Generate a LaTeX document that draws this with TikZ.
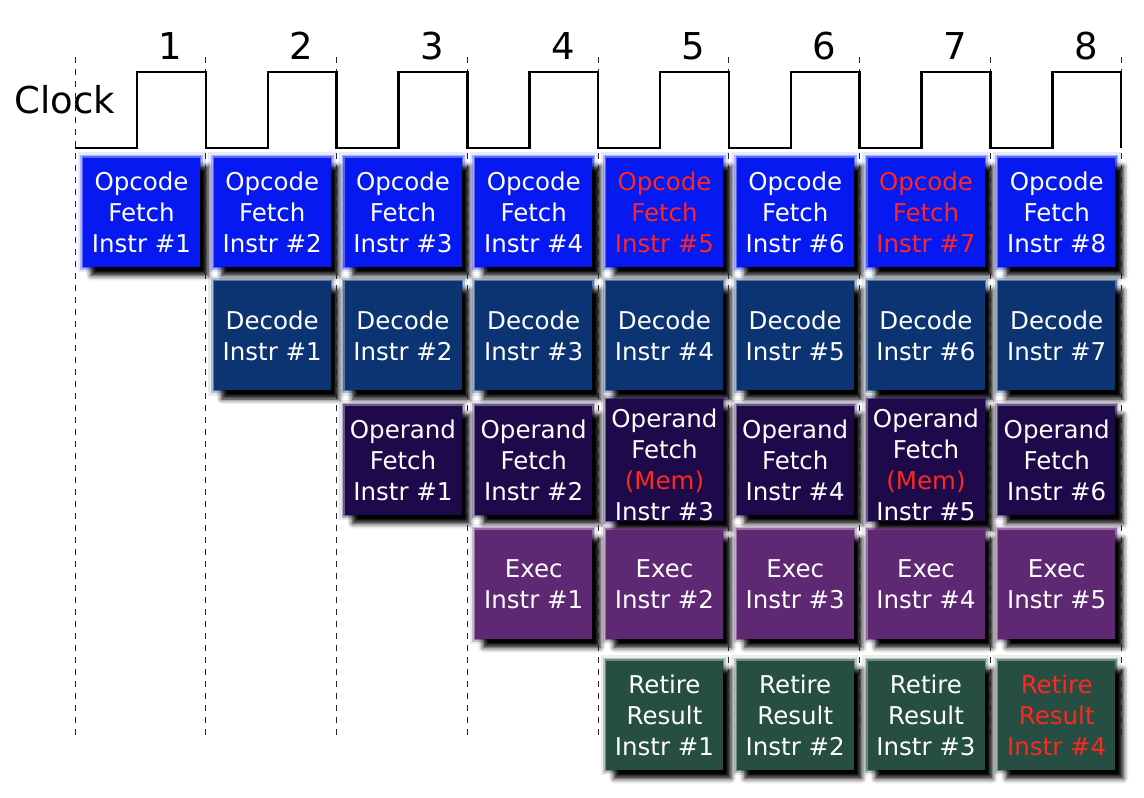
\documentclass[tikz,border=0pt]{standalone}
\usepackage{fontspec}
\setmainfont{DejaVu Sans}
\usetikzlibrary{positioning,shadows.blur}
\definecolor{fetchblue} {RGB}{  5, 25,240}
\definecolor{decblue}   {RGB}{ 12, 52,115}
\definecolor{opndviolet}{RGB}{ 30, 10, 75}
\definecolor{execviolet}{RGB}{ 94, 40,115}
\definecolor{retgreen}  {RGB}{ 38, 78, 66}
\definecolor{hazred}    {RGB}{255, 40, 30}
\newcommand{\memop}{{\color{hazred}(Mem)}}

\begin{document}
\begin{tikzpicture}[
    x=1pt, y=-1pt,
    node distance=13.75pt and 13.75pt,
    glow/.style={preaction={draw=#1, draw opacity=0.10, line width=11pt}, preaction={draw=#1, draw opacity=0.25, line width=6pt}, preaction={draw=#1, draw opacity=0.5, line width=2.5pt}},
    stage/.style={rectangle, minimum width=117pt, minimum height=109pt, inner sep=1pt, outer sep=0pt, align=center, text=white, font=\fontsize{24.5}{31}\selectfont, glow=#1, blur shadow={shadow xshift=8pt, shadow yshift=-9pt, shadow blur radius=5pt, shadow opacity=100}, fill=#1},
    fetch/.style={stage=fetchblue},
    decode/.style={stage=decblue},
    opnd/.style={stage=opndviolet},
    exec/.style={stage=execviolet},
    retire/.style={stage=retgreen},
    hazard/.style={text=hazred},
    memload/.style={text height=120pt, text depth=-13pt},
    cycleline/.style={line width=0.9pt, black!85, dash pattern=on 6pt off 6pt},
    clockwave/.style={line width=2.5pt, line join=miter},
    bigtext/.style={font=\fontsize{37}{42}\selectfont}
]
    \useasboundingbox (0,0) rectangle (1144,798);

    \node[fetch] (f1) at (141.5,212) {Opcode\\Fetch\\Instr \#1};
    \node[fetch] (f2) [right=of f1] {Opcode\\Fetch\\Instr \#2};
    \node[fetch] (f3) [right=of f2] {Opcode\\Fetch\\Instr \#3};
    \node[fetch] (f4) [right=of f3] {Opcode\\Fetch\\Instr \#4};
    \node[fetch, hazard] (f5) [right=of f4] {Opcode\\Fetch\\Instr \#5};
    \node[fetch] (f6) [right=of f5] {Opcode\\Fetch\\Instr \#6};
    \node[fetch, hazard] (f7) [right=of f6] {Opcode\\Fetch\\Instr \#7};
    \node[fetch] (f8) [right=of f7] {Opcode\\Fetch\\Instr \#8};

    \node[decode] (d1) at (272.25,335.5) {Decode\\Instr \#1};
    \node[decode] (d2) [right=of d1] {Decode\\Instr \#2};
    \node[decode] (d3) [right=of d2] {Decode\\Instr \#3};
    \node[decode] (d4) [right=of d3] {Decode\\Instr \#4};
    \node[decode] (d5) [right=of d4] {Decode\\Instr \#5};
    \node[decode] (d6) [right=of d5] {Decode\\Instr \#6};
    \node[decode] (d7) [right=of d6] {Decode\\Instr \#7};

    \node[opnd] (o1) at (403,460) {Operand\\Fetch\\Instr \#1};
    \node[opnd] (o2) [right=of o1] {Operand\\Fetch\\Instr \#2};
    \node[opnd, memload] (o3) [right=of o2] {Operand\\Fetch\\\memop\\Instr \#3};
    \node[opnd] (o4) [right=of o3] {Operand\\Fetch\\Instr \#4};
    \node[opnd, memload] (o5) [right=of o4] {Operand\\Fetch\\\memop\\Instr \#5};
    \node[opnd] (o6) [right=of o5] {Operand\\Fetch\\Instr \#6};

    \node[exec] (e1) at (533.75,584) {Exec\\Instr \#1};
    \node[exec] (e2) [right=of e1] {Exec\\Instr \#2};
    \node[exec] (e3) [right=of e2] {Exec\\Instr \#3};
    \node[exec] (e4) [right=of e3] {Exec\\Instr \#4};
    \node[exec] (e5) [right=of e4] {Exec\\Instr \#5};

    \node[retire] (r1) at (664.5,715) {Retire\\Result\\Instr \#1};
    \node[retire] (r2) [right=of r1] {Retire\\Result\\Instr \#2};
    \node[retire] (r3) [right=of r2] {Retire\\Result\\Instr \#3};
    \node[retire, hazard] (r4) [right=of r3] {Retire\\Result\\Instr \#4};

    \foreach \k in {0,...,8}
        \draw[cycleline] ({75+130.75*\k},57) -- ({75+130.75*\k},735);

    \draw[clockwave] (75,148)
        \foreach \k in {0,...,7} {
            -- ({75+130.75*\k+62},148) -- ++(0,-76)
            -- ({75+130.75*(\k+1)},72) -- ++(0,76)
        };

    \node[bigtext, anchor=west] (clk) at (11,100) {Clock};
    \foreach \k in {1,...,8}
        \node[bigtext] (c\k) at ({75+130.75*\k-35},46) {\k};
\end{tikzpicture}
\end{document}
